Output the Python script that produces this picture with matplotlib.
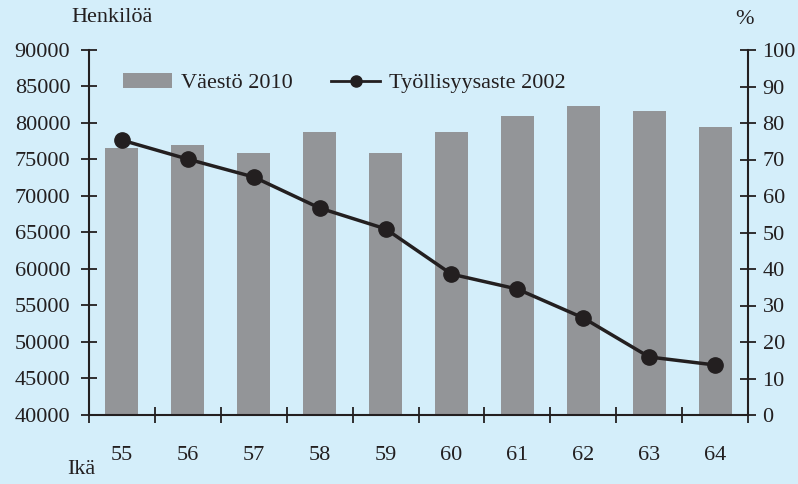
import matplotlib
matplotlib.use("Agg")
import matplotlib.pyplot as plt
from matplotlib.lines import Line2D
from matplotlib.patches import Patch
import numpy as np

# Data
ages = ["55", "56", "57", "58", "59", "60", "61", "62", "63", "64"]
vaesto_2010 = [76600, 77000, 75900, 78800, 75900, 78800, 81000, 82300, 81600, 79500]
tyollisyys_2002 = [75.3, 70.1, 65.2, 56.7, 51.0, 38.6, 34.5, 26.6, 15.9, 13.7]

BG = "#d4eefa"
BAR = "#939598"
INK = "#231f20"

plt.rcParams["font.family"] = ["Liberation Serif", "DejaVu Serif"]
plt.rcParams["font.size"] = 16

fig = plt.figure(figsize=(7.98, 4.84), dpi=100)
fig.patch.set_facecolor(BG)
ax = fig.add_axes([89 / 798, 69 / 484, 659 / 798, 365 / 484])
ax.set_facecolor(BG)
ax2 = ax.twinx()

x = np.arange(len(ages))
ax.bar(x, vaesto_2010, width=0.5, color=BAR, zorder=2)
ax.set_ylim(40000, 90000)
ax.set_yticks(np.arange(40000, 90001, 5000))
ax.set_xlim(-0.5, len(ages) - 0.5)
ax.set_xticks(np.arange(-0.5, len(ages), 1.0))
ax.set_xticklabels([])
ax.set_xticks(x, minor=True)
ax.set_xticklabels(ages, minor=True)

ax2.plot(x, tyollisyys_2002, color=INK, lw=2.5, marker="o", ms=11, zorder=3)
ax2.set_ylim(0, 100)
ax2.set_yticks(np.arange(0, 101, 10))

for a in (ax, ax2):
    for s in a.spines.values():
        s.set_visible(False)
ax.spines["left"].set_visible(True)
ax.spines["bottom"].set_visible(True)
ax2.spines["right"].set_visible(True)
for s in (ax.spines["left"], ax.spines["bottom"], ax2.spines["right"]):
    s.set_color(INK)
    s.set_linewidth(1.5)

ax.tick_params(axis="y", direction="inout", length=12, width=1.3, color=INK,
               labelcolor=INK, labelsize=16, pad=7.5)
ax.tick_params(axis="x", which="major", direction="inout", length=12, width=1.3,
               color=INK)
ax.tick_params(axis="x", which="minor", length=0, pad=22, labelsize=16,
               labelcolor=INK)
ax2.tick_params(axis="y", direction="inout", length=12, width=1.3, color=INK,
                labelcolor=INK, labelsize=16, pad=4.5)

fig.text(112 / 798, 1 - 18 / 484, "Henkilöä", ha="center", va="center",
         fontsize=16, color=INK)
fig.text(744 / 798, 1 - 20 / 484, "%", ha="center", va="center",
         fontsize=16, color=INK)
fig.text(81 / 798, 1 - 470 / 484, "Ikä", ha="center", va="center",
         fontsize=16, color=INK)

handles = [Patch(facecolor=BAR, edgecolor="none"),
           Line2D([], [], color=INK, lw=2, marker="o", ms=8)]
ax.legend(handles, ["Väestö 2010", "Työllisyysaste 2002"], ncol=2,
          loc="center left", bbox_to_anchor=(34 / 659, (415 - 83) / 365),
          frameon=False, handlelength=2.2, handletextpad=0.4,
          columnspacing=1.75, fontsize=16, labelcolor=INK,
          borderaxespad=0, borderpad=0)

fig.savefig("out.png", dpi=100, facecolor=BG)
